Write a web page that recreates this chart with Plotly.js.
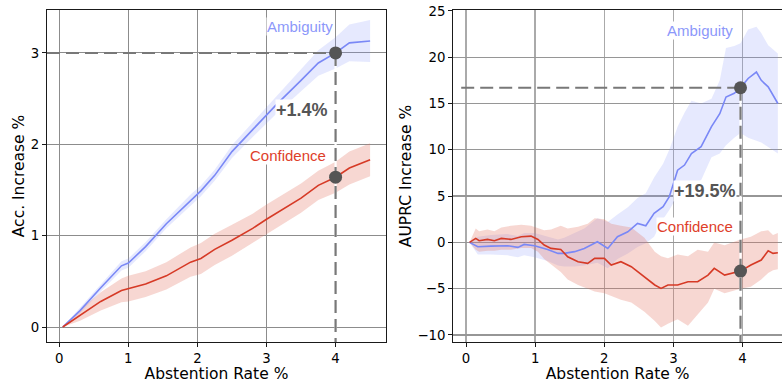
<!DOCTYPE html>
<html>
<head>
<meta charset="utf-8">
<script src="https://cdn.plot.ly/plotly-3.0.1.min.js"></script>
<style>html,body{margin:0;padding:0;background:#fff;}#chart{width:782px;height:383px;}</style>
</head>
<body>
<div id="chart"></div>
<script>
// ---------- Left panel: Accuracy increase ----------
const accX      = [0.05,0.3,0.6,0.9,1.0,1.25,1.55,1.9,2.05,2.25,2.5,2.8,3.0,3.15,3.5,3.75,4.0,4.2,4.5];
const accAmb    = [0,0.18,0.43,0.67,0.70,0.88,1.13,1.39,1.49,1.66,1.92,2.16,2.32,2.44,2.70,2.89,3.0,3.11,3.13];
const accAmbLo  = [0,0.15,0.39,0.62,0.65,0.83,1.08,1.33,1.43,1.60,1.85,2.08,2.23,2.34,2.58,2.75,2.83,2.91,2.90];
const accAmbHi  = [0,0.21,0.47,0.72,0.75,0.93,1.18,1.45,1.55,1.72,1.99,2.24,2.41,2.54,2.82,3.03,3.17,3.31,3.36];
const accConf   = [0,0.13,0.28,0.40,0.42,0.47,0.56,0.71,0.75,0.85,0.95,1.08,1.18,1.25,1.41,1.55,1.64,1.74,1.83];
const accConfLo = [0,0.07,0.18,0.27,0.28,0.33,0.41,0.55,0.58,0.68,0.78,0.92,1.02,1.09,1.25,1.39,1.47,1.56,1.65];
const accConfHi = [0,0.19,0.38,0.53,0.56,0.61,0.71,0.87,0.92,1.02,1.12,1.24,1.34,1.41,1.57,1.71,1.81,1.92,2.01];
const accRefX   = [4.0, 4.0];
const accRefY   = [3.0, 1.64];      // Ambiguity, Confidence at 4%
const accGain   = "+1.4%";

// ---------- Right panel: AUPRC increase ----------
const aupAmbX   = [0.05,0.17,0.36,0.6,0.75,0.84,0.99,1.18,1.33,1.42,1.57,1.71,1.9,2.05,2.19,2.34,2.48,2.6,2.72,2.85,2.94,3.06,3.16,3.26,3.4,3.55,3.67,3.76,3.88,3.97,4.08,4.2,4.27,4.37,4.51];
const aupAmb    = [0,-0.47,-0.4,-0.36,-0.54,-0.22,-0.36,-0.76,-1.19,-1.19,-1.0,-0.65,0.07,-0.65,0.61,1.15,2.05,1.8,3.13,3.85,4.93,7.8,8.35,9.6,10.33,12.5,13.9,15.7,16.1,16.7,17.7,18.4,17.5,16.8,15.0];
const aupAmbLo  = [0,-1.3,-1.3,-1.4,-1.6,-1.4,-1.6,-2.0,-2.5,-2.6,-2.6,-2.5,-2.2,-2.8,-1.8,-1.2,-0.5,-0.1,0.6,2.5,3.5,5.0,5.5,6.3,6.7,9.2,9.6,10.5,11.3,11.8,11.3,11.0,10.8,10.3,9.6];
const aupAmbHi  = [0,0.6,0.8,0.9,0.7,1.0,1.0,0.6,0.3,0.5,1.0,1.5,2.6,2.2,3.0,3.8,4.8,5.3,7.0,8.5,10.0,12.5,14.0,15.3,15.0,15.5,17.5,21.0,21.2,21.5,23.0,23.3,22.6,21.3,20.4];
const aupConfX  = [0.05,0.14,0.19,0.31,0.41,0.51,0.65,0.8,0.94,1.04,1.13,1.23,1.37,1.47,1.62,1.76,1.86,2.0,2.1,2.24,2.39,2.58,2.73,2.82,2.92,3.06,3.21,3.35,3.5,3.59,3.74,3.97,4.12,4.27,4.37,4.44,4.51];
const aupConf   = [0,0.43,0.18,0.32,0.18,0.43,0.32,0.61,0.68,0.32,-0.29,-0.65,-0.76,-1.55,-2.09,-2.27,-1.73,-1.73,-2.45,-2.09,-2.63,-3.71,-4.6,-4.97,-4.6,-4.6,-4.25,-4.25,-3.53,-2.81,-3.53,-3.1,-2.45,-1.91,-0.9,-1.19,-1.12];
const aupConfLo = [0,-0.8,-1.0,-0.9,-0.9,-0.8,-0.8,-0.6,-0.6,-1.0,-1.8,-2.4,-3.2,-4.0,-4.6,-5.0,-5.3,-5.5,-5.8,-6.2,-6.5,-7.5,-8.5,-9.2,-8.8,-8.3,-9.0,-7.8,-6.5,-5.0,-5.5,-5.0,-4.8,-4.0,-3.3,-3.0,-2.9];
const aupConfHi = [0,1.5,1.2,1.4,1.2,1.6,1.8,1.9,1.8,1.5,1.3,1.4,1.8,1.5,1.7,2.0,2.6,2.5,2.0,1.8,1.6,0.5,-1.0,-1.5,-1.7,-1.3,-1.5,-0.8,-1.0,0.0,-0.3,0.3,0.6,1.2,1.3,0.8,1.0];
const aupRefX   = [3.97, 3.97];
const aupRefY   = [16.7, -3.1];
const aupGain   = "+19.5%";

const xTicks    = [0,1,2,3,4];
const accYTicks = [0,1,2,3];
const aupYTicks = [-10,-5,0,5,10,15,20,25];
const seriesNames = ["Ambiguity","Confidence"];

// ---------- styles ----------
const BLUE = "rgb(122,136,246)", BLUE_BAND = "rgba(130,145,250,0.2)", BLUE_TXT = "rgb(140,152,250)";
const RED = "rgb(214,58,38)", RED_BAND = "rgba(226,112,92,0.28)", RED_TXT = "rgb(222,62,42)";
const REF = "rgb(85,85,85)", DASH = "rgb(120,120,120)";
const TICKFONT = {family:"DejaVu Sans", size:13.3, color:"#000"};
const TITLEFONT = {family:"DejaVu Sans", size:15.5, color:"#000"};

const accXR = [-0.178, 4.73], accYR = [-0.164, 3.47];
const aupXR = [-0.184, 4.57], aupYR = [-10.76, 25.1];

function band(x, lo, hi, color, xa, ya) {
  return [
    {x:x, y:lo, xaxis:xa, yaxis:ya, mode:"lines", line:{width:0, color:color}, hoverinfo:"skip", showlegend:false},
    {x:x, y:hi, xaxis:xa, yaxis:ya, mode:"lines", line:{width:0, color:color}, fill:"tonexty", fillcolor:color, hoverinfo:"skip", showlegend:false}
  ];
}
function line(x, y, color, xa, ya, name) {
  return {x:x, y:y, xaxis:xa, yaxis:ya, mode:"lines", name:name, line:{width:1.6, color:color}, showlegend:false};
}
function guides(refX, refY, xr, yr, xa, ya, hStart) {
  return [
    {x:[hStart, refX[0]], y:[refY[0], refY[0]], xaxis:xa, yaxis:ya, mode:"lines", line:{color:DASH, width:2, dash:"13px,6px"}, showlegend:false, hoverinfo:"skip"},
    {x:[refX[0], refX[0]], y:[refY[0], yr[0]], xaxis:xa, yaxis:ya, mode:"lines", line:{color:"#fff", width:2.2}, showlegend:false, hoverinfo:"skip"},
    {x:[refX[0], refX[0]], y:[refY[0], yr[0]], xaxis:xa, yaxis:ya, mode:"lines", line:{color:DASH, width:2.2, dash:"13px,6px"}, showlegend:false, hoverinfo:"skip"},
    {x:refX, y:refY, xaxis:xa, yaxis:ya, mode:"markers", marker:{color:REF, size:13}, showlegend:false}
  ];
}

const traces = [].concat(
  band(accX, accAmbLo, accAmbHi, BLUE_BAND, "x", "y"),
  band(accX, accConfLo, accConfHi, RED_BAND, "x", "y"),
  [line(accX, accAmb, BLUE, "x", "y", seriesNames[0]), line(accX, accConf, RED, "x", "y", seriesNames[1])],
  guides(accRefX, accRefY, accXR, accYR, "x", "y", accXR[0]),
  band(aupAmbX, aupAmbLo, aupAmbHi, BLUE_BAND, "x2", "y2"),
  band(aupConfX, aupConfLo, aupConfHi, RED_BAND, "x2", "y2"),
  [line(aupAmbX, aupAmb, BLUE, "x2", "y2", seriesNames[0]), line(aupConfX, aupConf, RED, "x2", "y2", seriesNames[1])],
  guides(aupRefX, aupRefY, aupXR, aupYR, "x2", "y2", -0.07)
);

function axisBase(extra) {
  return Object.assign({
    showgrid:true, gridcolor:"rgb(140,140,140)", gridwidth:1, zeroline:false,
    showline:true, linecolor:"#1a1a1a", linewidth:1.2,
    ticks:"outside", ticklen:4, tickwidth:1, tickcolor:"#1a1a1a",
    tickfont:TICKFONT, automargin:false, fixedrange:true
  }, extra);
}

const labelFont = (c, s, w) => ({family:"Liberation Sans, Arial, sans-serif", size:s, color:c, weight:w});
function ann(xa, ya, x, y, text, font) {
  return {xref:xa, yref:ya, x:x, y:y, text:text, showarrow:false, font:font, bgcolor:"#fff", borderpad:0, xanchor:"center", yanchor:"middle"};
}

const layout = {
  width:782, height:383,
  margin:{l:0, r:0, t:0, b:0},
  paper_bgcolor:"#fff", plot_bgcolor:"#fff",
  showlegend:false,
  xaxis: axisBase({domain:[0.0601,0.4936], range:accXR, tickvals:xTicks, mirror:true, anchor:"y",
                   title:{text:"Abstention Rate %", font:TITLEFONT, standoff:6}}),
  yaxis: axisBase({domain:[0.107,0.974], range:accYR, tickvals:accYTicks, mirror:true, anchor:"x",
                   title:{text:"Acc. Increase %", font:TITLEFONT, standoff:2}}),
  xaxis2: axisBase({domain:[0.5797,1], range:aupXR, tickvals:xTicks, mirror:true, anchor:"y2",
                   gridcolor:"rgb(170,170,170)", gridwidth:1.6,
                   title:{text:"Abstention Rate %", font:TITLEFONT, standoff:6}}),
  yaxis2: axisBase({domain:[0.107,0.974], range:aupYR, tickvals:aupYTicks, mirror:false, anchor:"x2",
                   gridcolor:"rgb(150,150,150)", gridwidth:1.2,
                   title:{text:"AUPRC Increase %", font:TITLEFONT, standoff:2}}),
  annotations:[
    ann("x","y",3.48,3.29,seriesNames[0],labelFont(BLUE_TXT,15,"normal")),
    ann("x","y",3.31,1.88,seriesNames[1],labelFont(RED_TXT,15,"normal")),
    ann("x","y",3.52,2.38,"<b>"+accGain+"</b>",labelFont("rgb(85,85,85)",18,"bold")),
    ann("x2","y2",3.39,22.9,seriesNames[0],labelFont(BLUE_TXT,15,"normal")),
    ann("x2","y2",3.31,1.76,seriesNames[1],labelFont(RED_TXT,15,"normal")),
    ann("x2","y2",3.46,5.57,"<b>"+aupGain+"</b>",labelFont("rgb(85,85,85)",18,"bold"))
  ]
};

Plotly.newPlot("chart", traces, layout, {staticPlot:true, displayModeBar:false});
</script>
</body>
</html>
